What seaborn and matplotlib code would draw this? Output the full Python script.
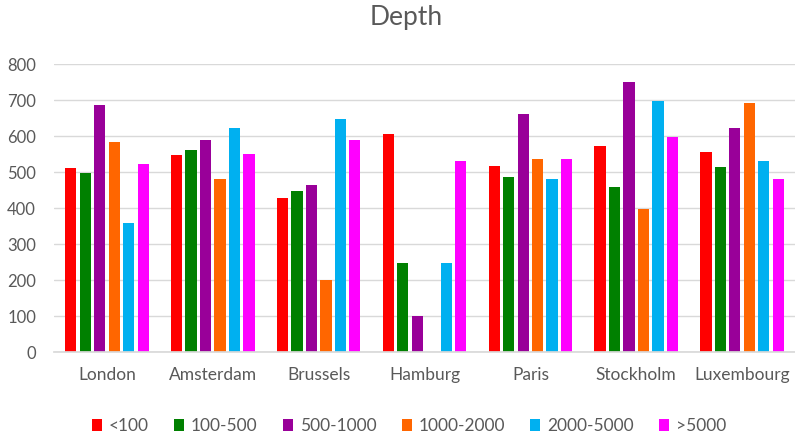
import matplotlib
matplotlib.use("Agg")
import matplotlib.pyplot as plt
import seaborn as sns
import pandas as pd

cities = ["London", "Amsterdam", "Brussels", "Hamburg", "Paris", "Stockholm", "Luxembourg"]
depths = ["<100", "100-500", "500-1000", "1000-2000", "2000-5000", ">5000"]
lt100 = [512, 546, 429, 605, 518, 571, 555]
d100_500 = [497, 562, 447, 247, 485, 457, 515]
d500_1000 = [685, 590, 463, 100, 660, 750, 623]
d1000_2000 = [584, 481, 200, 0, 537, 398, 691]
d2000_5000 = [358, 623, 648, 247, 481, 697, 531]
gt5000 = [522, 549, 590, 531, 537, 598, 481]
colors = ["#FF0000", "#008000", "#990099", "#FF6600", "#00B0F0", "#FF00FF"]

series = [lt100, d100_500, d500_1000, d1000_2000, d2000_5000, gt5000]
rows = []
for d, vals in zip(depths, series):
    for c, v in zip(cities, vals):
        rows.append({"City": c, "Depth": d, "Value": v})
df = pd.DataFrame(rows)

sns.set_theme(style="white")
plt.rcParams["font.family"] = ["Lato", "DejaVu Sans"]
text_col = "#595959"

fig = plt.figure(figsize=(7.95, 4.37), dpi=100)
ax = fig.add_axes([0.068, 0.1945, 0.932, 0.659])

sns.barplot(data=df, x="City", y="Value", hue="Depth", order=cities,
            hue_order=depths, palette=colors, width=0.82, gap=0.22,
            saturation=1, linewidth=0, ax=ax, legend=True)

ax.set_xlim(-0.5, 6.5)
ax.set_ylim(0, 800)
ax.set_yticks(range(0, 801, 100))
ax.yaxis.grid(True, color="#D9D9D9", linewidth=1)
ax.set_axisbelow(True)
for s in ["top", "right", "left"]:
    ax.spines[s].set_visible(False)
ax.spines["bottom"].set_color("#D9D9D9")
ax.tick_params(axis="both", length=0, colors=text_col)
ax.tick_params(axis="y", labelsize=12, pad=13)
ax.tick_params(axis="x", labelsize=12.5, pad=11)
ax.set_xlabel("")
ax.set_ylabel("")
fig.text(406 / 795, 1 - 17 / 437, "Depth", fontsize=19, color=text_col,
         ha="center", va="center")

handles, labels = ax.get_legend_handles_labels()
ax.get_legend().remove()
fig.legend(handles, labels, loc="center", bbox_to_anchor=(409 / 795, 1 - 426 / 437),
           ncol=6, frameon=False, handlelength=0.58, handleheight=0.75,
           handletextpad=0.4, columnspacing=1.45, fontsize=12.5,
           labelcolor=text_col, borderpad=0, borderaxespad=0)

fig.savefig("out.png", dpi=100)
